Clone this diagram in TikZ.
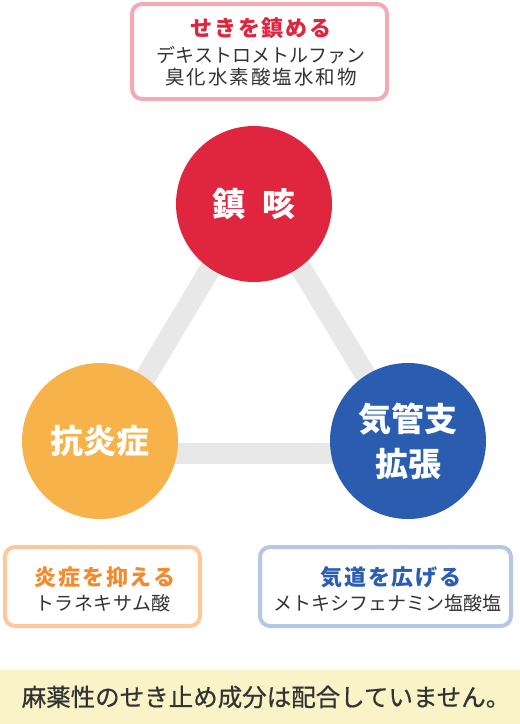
\documentclass[tikz,border=0pt]{standalone}
\usepackage{fontspec}
\newfontfamily\jp{Noto Sans CJK JP}
\definecolor{cred}{HTML}{E0253F}
\definecolor{corange}{HTML}{F8B24A}
\definecolor{cblue}{HTML}{2A5CAF}
\definecolor{bandgray}{HTML}{E8E8E8}
\definecolor{bpink}{HTML}{F4A9B7}
\definecolor{borange}{HTML}{FDC89B}
\definecolor{bblue}{HTML}{B6C7E5}
\definecolor{horange}{HTML}{F28A2E}
\definecolor{hblue}{HTML}{2B5EB1}
\definecolor{banner}{HTML}{FBF3C8}
\definecolor{txt}{HTML}{333333}
\tikzset{
  circ/.style={circle, minimum size=156pt, inner sep=0pt, text=white, align=center,
    font=\jp\bfseries\fontsize{33}{45}\selectfont},
  band/.style={line width=21pt, draw=bandgray},
  infobox/.style={draw, rounded corners=10pt, line width=4pt, fill=white, inner sep=0pt},
  head/.style={inner sep=0pt, font=\jp\bfseries\fontsize{22}{26}\selectfont\addfontfeatures{LetterSpace=8}},
  sub/.style={inner sep=0pt, text=txt, font=\jp\fontsize{19}{22}\selectfont},
}
\begin{document}
\begin{tikzpicture}[x=1pt, y=-1pt]
\useasboundingbox (0,0) rectangle (520,724);
% triangle vertices
\coordinate (vt) at (255.5,193);
\coordinate (vl) at (100,453.5);
\coordinate (vr) at (413,453.5);
\draw[band] (vt) -- (vl);
\draw[band] (vt) -- (vr);
\draw[band] (vl) -- (vr);
% circles
\node[circ, fill=cred] (chinga) at (254,204) {鎮\hspace{0.5em}咳};
\node[circ, fill=corange] (koen) at (100,441) {抗炎症};
\node[circ, fill=cblue] (kikan) at (408,441) {気管支\\拡張};
% top box
\node[infobox, draw=bpink, minimum width=255pt, minimum height=95pt] (topbox) at (259.5,51.5) {};
\node[head, text=cred] (toph) at (261,28) {せきを鎮める};
\node[sub] (top1) at (261,55) {デキストロメトルファン};
\node[sub, font=\jp\fontsize{19.5}{22}\selectfont\addfontfeatures{LetterSpace=10}] (top2) at (261,77) {臭化水素酸塩水和物};
% left box
\node[infobox, draw=borange, minimum width=195pt, minimum height=79pt] (leftbox) at (102.5,586.5) {};
\node[head, text=horange] (lefth) at (105,577) {炎症を抑える};
\node[sub, font=\jp\fontsize{19}{22}\selectfont\addfontfeatures{LetterSpace=2}] (left1) at (103,603) {トラネキサム酸};
% right box
\node[infobox, draw=bblue, minimum width=251pt, minimum height=79pt] (rightbox) at (385.5,586.5) {};
\node[head, text=hblue] (righth) at (391,577) {気道を広げる};
\node[sub] (right1) at (387,603) {メトキシフェナミン塩酸塩};
% banner
\fill[banner] (0,670) rectangle (520,724);
\node[inner sep=0pt, text=txt, font=\jp\fontsize{24.5}{28}\selectfont\addfontfeatures{FakeBold=0.6}] (note) at (266,697) {麻薬性のせき止め成分は配合していません。};
\end{tikzpicture}
\end{document}
